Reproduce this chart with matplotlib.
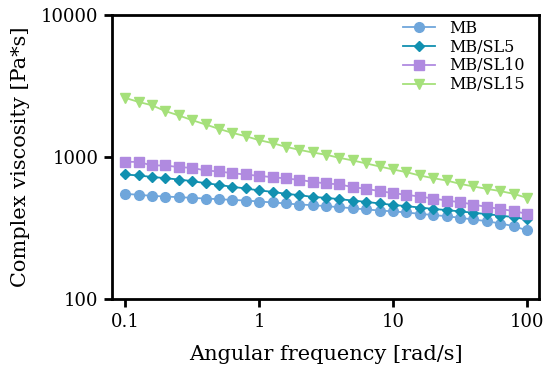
import matplotlib
matplotlib.use("Agg")
import matplotlib.pyplot as plt
import numpy as np

# angular frequency, 10 points per decade
freq = [0.1, 0.126, 0.158, 0.2, 0.251, 0.316, 0.398, 0.501, 0.631, 0.794,
        1.0, 1.26, 1.58, 2.0, 2.51, 3.16, 3.98, 5.01, 6.31, 7.94,
        10.0, 12.6, 15.8, 20.0, 25.1, 31.6, 39.8, 50.1, 63.1, 79.4, 100.0]

mb = [552, 543, 534, 528, 523, 517, 511, 506, 500, 495,
      487, 480, 472, 464, 459, 452, 444, 437, 428, 421,
      415, 408, 399, 391, 384, 374, 364, 354, 341, 327, 305]
mb_sl5 = [755, 743, 726, 711, 696, 678, 656, 638, 618, 602,
          583, 570, 552, 540, 525, 517, 506, 495, 484, 472,
          461, 452, 442, 432, 424, 415, 406, 397, 388, 378, 364]
mb_sl10 = [927, 927, 874, 874, 851, 841, 806, 793, 771, 755,
           738, 723, 708, 692, 670, 653, 643, 615, 598, 577,
           558, 543, 528, 511, 495, 482, 464, 446, 432, 417, 399]
mb_sl15 = [2617, 2449, 2322, 2109, 1968, 1823, 1700, 1582, 1483, 1405,
           1318, 1256, 1183, 1126, 1079, 1040, 989, 948, 903, 860,
           819, 784, 743, 711, 685, 649, 622, 598, 577, 552, 517]

labels = ["MB", "MB/SL5", "MB/SL10", "MB/SL15"]
x_ticks = [0.1, 1, 10, 100]
x_ticklabels = ["0.1", "1", "10", "100"]
y_ticks = [100, 1000, 10000]
y_ticklabels = ["100", "1000", "10000"]

plt.rcParams['font.family'] = ['DejaVu Serif']

fig = plt.figure(figsize=(5.5, 3.9), dpi=100)
ax = fig.add_axes([0.204, 0.233, 0.776, 0.728])

ax.plot(freq, mb, color='#6fa6db', marker='o', markersize=7, lw=1.3, label=labels[0])
ax.plot(freq, mb_sl5, color='#1190b0', marker='D', markersize=5, lw=1.3, label=labels[1])
ax.plot(freq, mb_sl10, color='#b08ae0', marker='s', markersize=7, lw=1.3, label=labels[2])
ax.plot(freq, mb_sl15, color='#a5e07a', marker='v', markersize=7.5, lw=1.3, label=labels[3])

ax.set_xscale('log')
ax.set_yscale('log')
ax.set_xlim(0.08, 123)
ax.set_ylim(100, 10000)
ax.minorticks_off()
ax.set_xticks(x_ticks)
ax.set_xticklabels(x_ticklabels)
ax.set_yticks(y_ticks)
ax.set_yticklabels(y_ticklabels)

for s in ax.spines.values():
    s.set_linewidth(2)
ax.tick_params(direction='out', length=6, width=2, labelsize=13, pad=4)

ax.set_xlabel('Angular frequency [rad/s]', fontsize=15, labelpad=10)
ax.set_ylabel('Complex viscosity [Pa*s]', fontsize=15, labelpad=8)

ax.legend(loc='upper right', frameon=False, fontsize=11.5, handlelength=2.0,
          handletextpad=0.9, labelspacing=0.12, bbox_to_anchor=(1.0, 1.035))

fig.savefig('out.png', dpi=100)
